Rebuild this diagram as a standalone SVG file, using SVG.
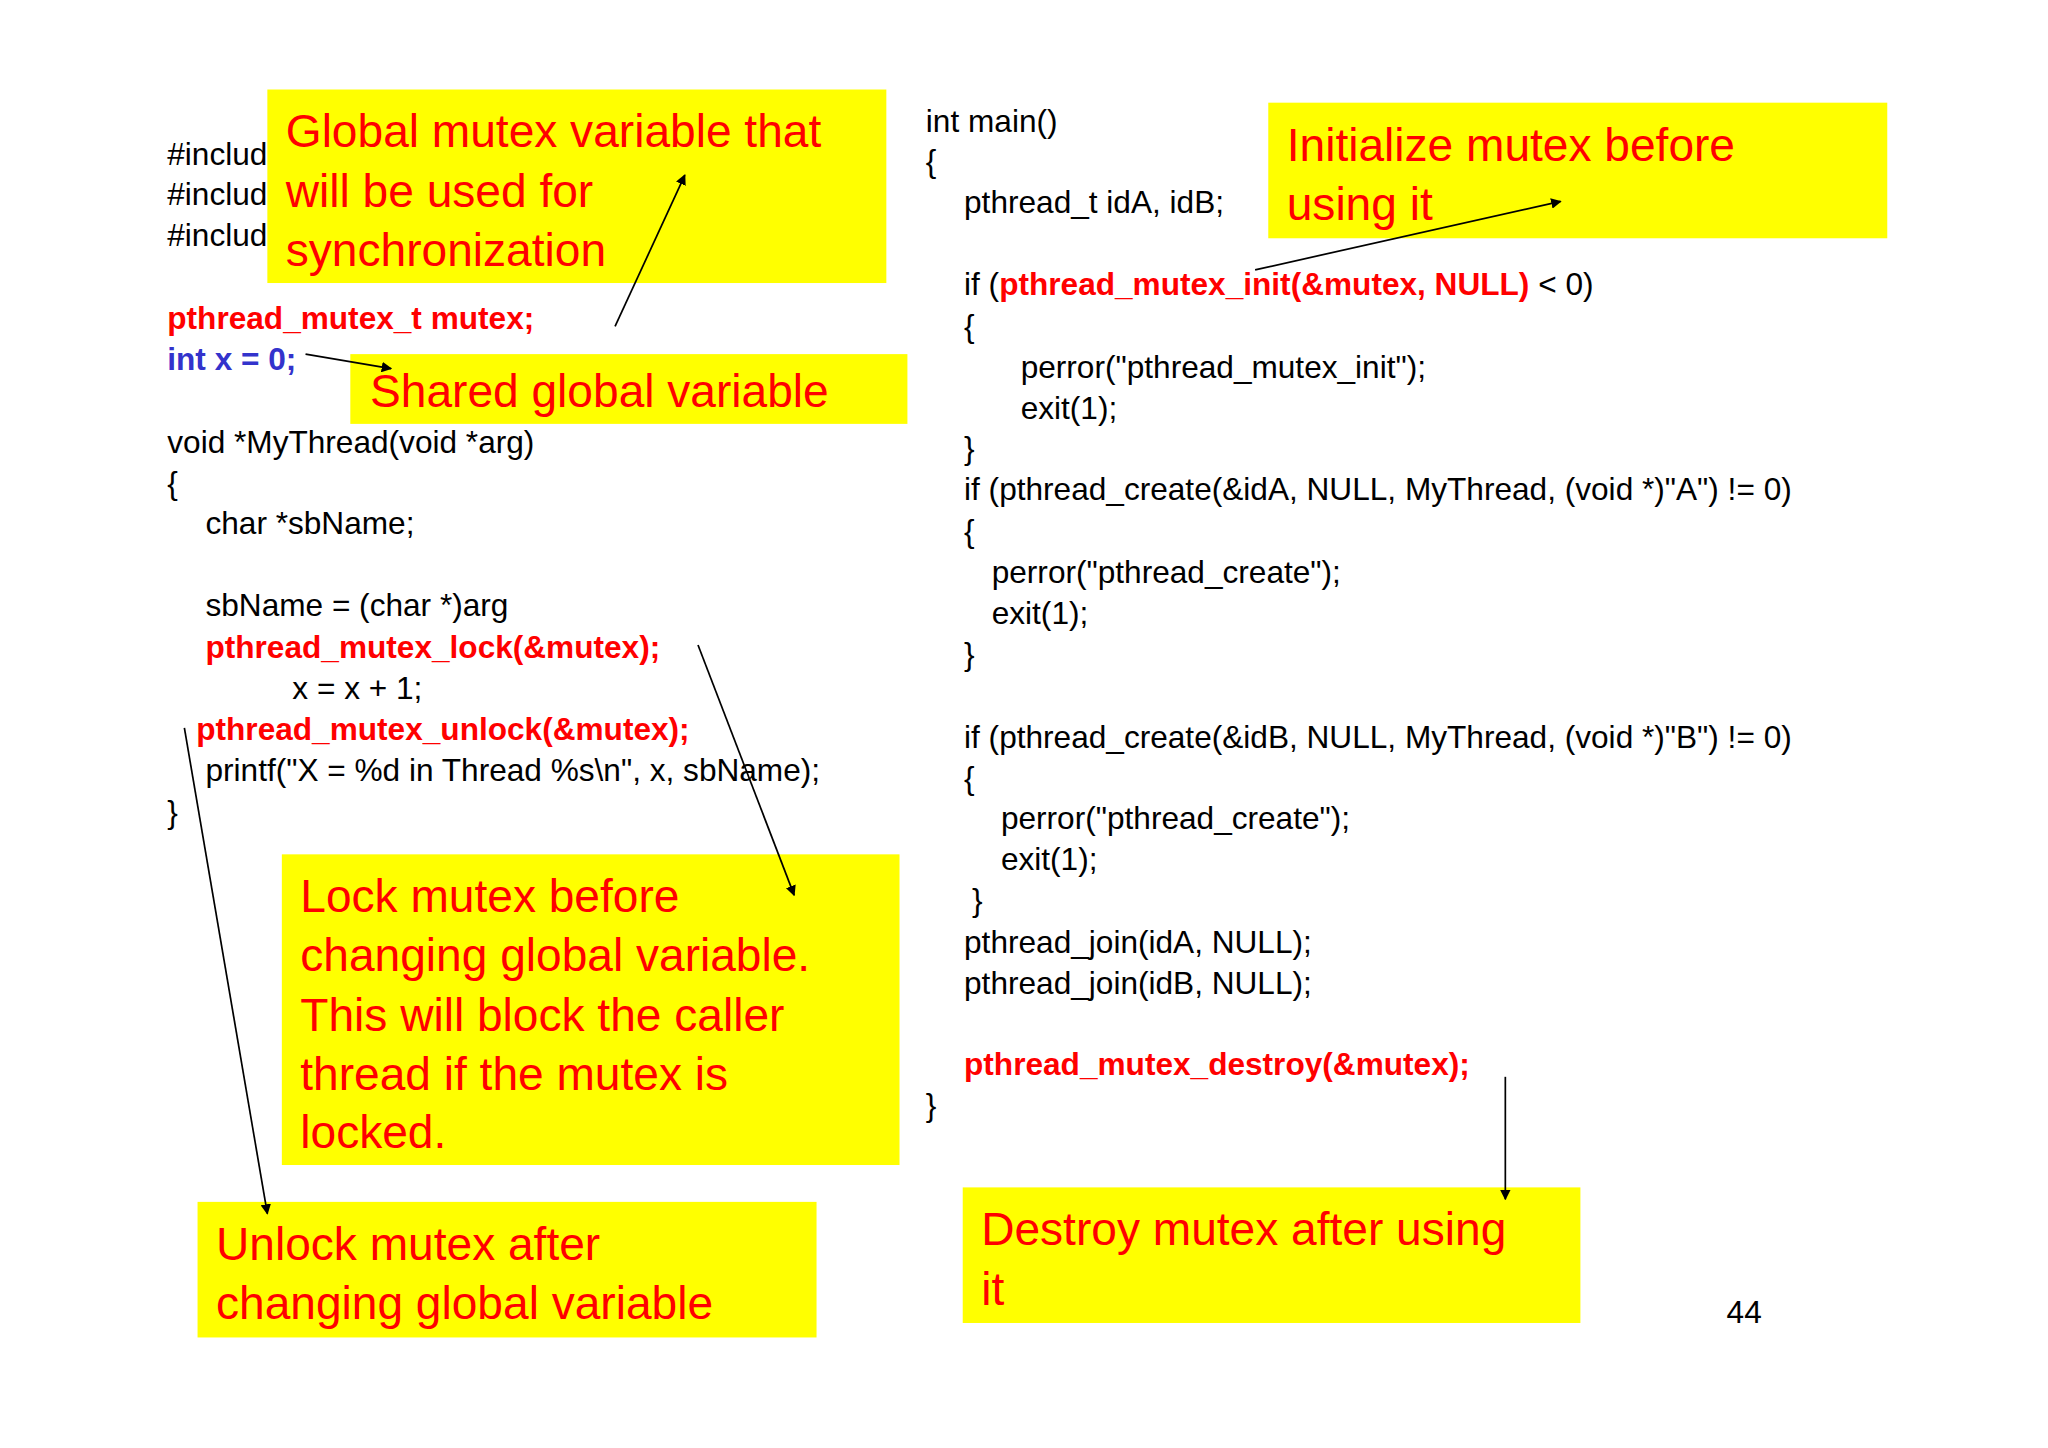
<svg xmlns="http://www.w3.org/2000/svg" width="2048" height="1448" viewBox="0 0 2048 1448">
<defs>
<style>
text{font-family:"Liberation Sans",Arial,sans-serif}
.c{font-size:24px;fill:#000}
.r{fill:#ff0000;font-weight:bold}
.b{fill:#3333cc;font-weight:bold}
.n{font-size:35px;fill:#ff0000}
.box{fill:#ffff00}
.ln{stroke:#000;stroke-width:1.3;fill:none;marker-end:url(#ah)}
</style>
<marker id="ah" viewBox="0 0 10 10" refX="9" refY="5" markerWidth="8" markerHeight="8" orient="auto" markerUnits="userSpaceOnUse"><path d="M0,0L10,5L0,10z" fill="#000"/></marker>
</defs>
<rect width="2048" height="1448" fill="#fff"/>
<g transform="scale(1.317,1.3164)">
<g id="code-left" class="c">
<text class="c" x="127" y="125">#include</text>
<text class="c" x="127" y="156">#include</text>
<text class="c" x="127" y="187">#include</text>
<text class="c r" x="127" y="250">pthread_mutex_t mutex;</text>
<text class="c b" x="127" y="281">int x = 0;</text>
<text class="c" x="127" y="344">void *MyThread(void *arg)</text>
<text class="c" x="127" y="375">{</text>
<text class="c" x="156" y="406">char *sbName;</text>
<text class="c" x="156" y="468">sbName = (char *)arg</text>
<text class="c r" x="156" y="500">pthread_mutex_lock(&amp;mutex);</text>
<text class="c" x="222" y="531">x = x + 1;</text>
<text class="c r" x="149" y="562">pthread_mutex_unlock(&amp;mutex);</text>
<text class="c" x="156" y="593">printf("X = %d in Thread %s\n", x, sbName);</text>
<text class="c" x="127" y="625">}</text>
</g>
<g id="code-right">
<text class="c" x="703" y="100">int main()</text>
<text class="c" x="703" y="131">{</text>
<text class="c" x="732" y="162">pthread_t idA, idB;</text>
<text class="c" x="732" y="224">if (<tspan class="r">pthread_mutex_init(&amp;mutex, NULL)</tspan> &lt; 0)</text>
<text class="c" x="732" y="256">{</text>
<text class="c" x="775" y="287">perror("pthread_mutex_init");</text>
<text class="c" x="775" y="318">exit(1);</text>
<text class="c" x="732" y="349">}</text>
<text class="c" x="732" y="380">if (pthread_create(&amp;idA, NULL, MyThread, (void *)"A") != 0)</text>
<text class="c" x="732" y="412">{</text>
<text class="c" x="753" y="443">perror("pthread_create");</text>
<text class="c" x="753" y="474">exit(1);</text>
<text class="c" x="732" y="505">}</text>
<text class="c" x="732" y="568">if (pthread_create(&amp;idB, NULL, MyThread, (void *)"B") != 0)</text>
<text class="c" x="732" y="599">{</text>
<text class="c" x="760" y="630">perror("pthread_create");</text>
<text class="c" x="760" y="661">exit(1);</text>
<text class="c" x="738" y="692">}</text>
<text class="c" x="732" y="724">pthread_join(idA, NULL);</text>
<text class="c" x="732" y="755">pthread_join(idB, NULL);</text>
<text class="c r" x="732" y="817">pthread_mutex_destroy(&amp;mutex);</text>
<text class="c" x="703" y="848">}</text>
<text class="c" x="1311" y="1005">44</text>
</g>
<g id="note-global"><rect class="box" x="203" y="68" width="470" height="147"/>
<text class="n" x="217" y="112">Global mutex variable that</text><text class="n" x="217" y="157">will be used for</text><text class="n" x="217" y="202">synchronization</text></g>
<g id="note-init"><rect class="box" x="963" y="78" width="470" height="103"/>
<text class="n" x="977" y="122">Initialize mutex before</text><text class="n" x="977" y="167">using it</text></g>
<g id="note-shared"><rect class="box" x="266" y="269" width="423" height="53"/>
<text class="n" x="281" y="309">Shared global variable</text></g>
<g id="note-lock"><rect class="box" x="214" y="649" width="469" height="236"/>
<text class="n" x="228" y="693">Lock mutex before</text><text class="n" x="228" y="738">changing global variable.</text><text class="n" x="228" y="783">This will block the caller</text><text class="n" x="228" y="828">thread if the mutex is</text><text class="n" x="228" y="872">locked.</text></g>
<g id="note-unlock"><rect class="box" x="150" y="913" width="470" height="103"/>
<text class="n" x="164" y="957">Unlock mutex after</text><text class="n" x="164" y="1002">changing global variable</text></g>
<g id="note-destroy"><rect class="box" x="731" y="902" width="469" height="103"/>
<text class="n" x="745" y="946">Destroy mutex after using</text><text class="n" x="745" y="991">it</text></g>
<g id="connectors">
<line class="ln" x1="467" y1="248" x2="520" y2="133"/>
<line class="ln" x1="232" y1="269" x2="297" y2="280"/>
<line class="ln" x1="953" y1="205" x2="1185" y2="153"/>
<line class="ln" x1="530" y1="490" x2="603" y2="680"/>
<line class="ln" x1="140" y1="553" x2="203" y2="922"/>
<line class="ln" x1="1143" y1="818" x2="1143" y2="911"/>
</g>
</g>
</svg>
